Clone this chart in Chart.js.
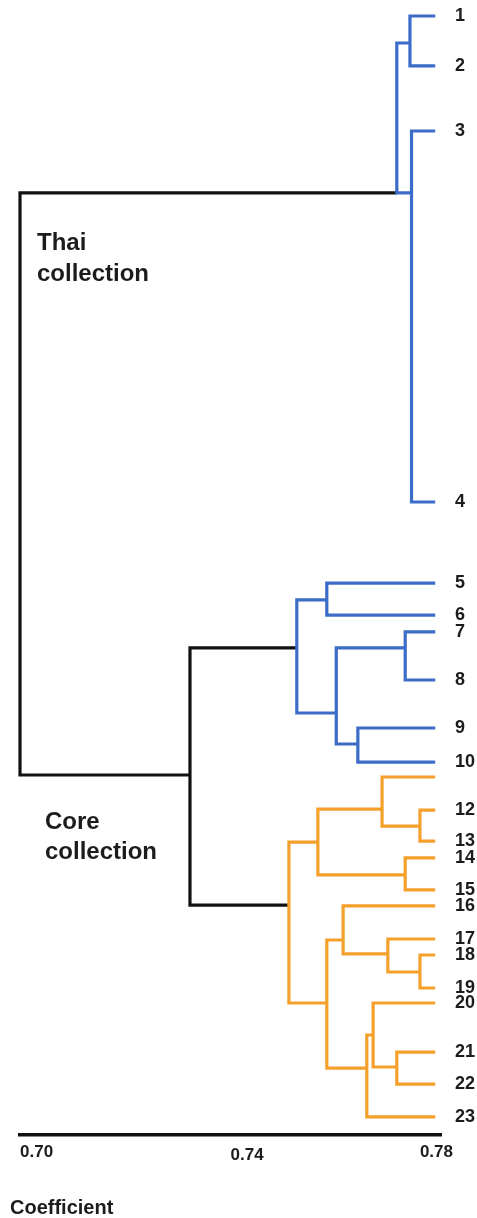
<!DOCTYPE html>
<html><head><meta charset="utf-8">
<script src="https://cdn.jsdelivr.net/npm/chart.js@4.4.0/dist/chart.umd.min.js"></script>
<style>html,body{margin:0;padding:0;background:#fff;}#wrap{width:477px;height:1218px;position:relative;}</style>
</head><body><div id="wrap"><canvas id="c"></canvas></div>
<script>
// Leaves (top to bottom), label "11" is absent in the source figure
const leafLabels = ['1','2','3','4','5','6','7','8','9','10','','12','13','14','15','16','17','18','19','20','21','22','23'];
const leafPos = [1.41,5.81,11.54,44.23,51.37,54.19,55.68,59.91,64.14,67.14,68.46,71.37,74.10,75.59,78.41,79.82,82.73,84.14,87.05,88.37,92.69,95.51,98.41];
const leafCoef = 0.7789;

// Internal merge nodes
const nodeNames  = ['A12','A34','T','B56','B78','B910','B710','B','O1213','O1113','O1415','O1','O1819','O1719','O1619','O2122','O2022','O2023','O2','O','Core','Root'];
const nodeCoef   = [0.7741,0.7744,0.7716,0.7583,0.7732,0.7642,0.7601,0.7526,0.7760,0.7688,0.7732,0.7566,0.7760,0.7699,0.7614,0.7716,0.7671,0.7659,0.7583,0.7511,0.7323,0.7000];
const nodeLeft   = ['L1','L3','A12','L5','L7','L9','B78','B56','L12','L11','L14','O1113','L18','L17','L16','L21','L20','O2022','O1619','O1','B','T'];
const nodeRight  = ['L2','L4','A34','L6','L8','L10','B910','B710','L13','O1213','L15','O1415','L19','O1819','O1719','L22','O2122','L23','O2023','O2','O','Core'];
const nodeJoin   = [3.79,17.00,17.00,52.86,57.09,65.55,62.82,57.09,72.78,71.28,77.09,74.19,85.64,84.05,82.82,94.01,91.19,94.10,88.37,79.74,68.28,null];
const nodeGroup  = ['thai','thai','thai','core','core','core','core','core','coreB','coreB','coreB','coreB','coreB','coreB','coreB','coreB','coreB','coreB','coreB','coreB','root','root'];

const tickValues = [0.70, 0.74, 0.78];
const tickLabels = ['0.70', '0.74', '0.78'];

const groupColor = {thai:'#3b6cc8', core:'#3b6cc8', coreB:'#f5a02a', root:'#111111'};

function ref(id){
  if (id[0]==='L'){ const i = parseInt(id.slice(1))-1; return {x:leafCoef, y:leafPos[i]}; }
  const k = nodeNames.indexOf(id); return {x:nodeCoef[k], y:nodeJoin[k]};
}
const datasets = nodeNames.map((n,k)=>{
  const a = ref(nodeLeft[k]), b = ref(nodeRight[k]), h = nodeCoef[k];
  return {
    label:n, data:[{x:a.x,y:a.y},{x:h,y:a.y},{x:h,y:b.y},{x:b.x,y:b.y}],
    showLine:true, borderColor:groupColor[nodeGroup[k]], borderWidth:3.2,
    pointRadius:0, tension:0, borderJoinStyle:'miter', borderCapStyle:'butt', fill:false,
    clip:false
  };
});

const FONT = '"Liberation Sans", Arial, sans-serif';
const textPlugin = {
  id:'texts',
  afterDraw(chart){
    const ctx = chart.ctx, xs = chart.scales.x;
    ctx.save();
    ctx.fillStyle = '#1c1c1c';
    ctx.textBaseline = 'middle';
    ctx.font = 'bold 17px ' + FONT;
    tickValues.forEach((v,i)=>{
      const px = xs.getPixelForValue(v);
      if (i === tickValues.length-1){ ctx.textAlign='right'; ctx.fillText(tickLabels[i], px+12, 1152); }
      else { ctx.textAlign='left'; ctx.fillText(tickLabels[i], px, i===0?1152:1155); }
    });
    ctx.textAlign='left';
    ctx.font = 'bold 20px ' + FONT;
    ctx.fillText('Coefficient', 10, 1208);
    ctx.font = 'bold 24px ' + FONT;
    ctx.fillText('Thai', 37, 243);
    ctx.fillText('collection', 37, 274);
    ctx.fillText('Core', 45, 822);
    ctx.fillText('collection', 45, 852);
    ctx.restore();
  }
};

new Chart(document.getElementById('c'), {
  type:'scatter',
  data:{datasets},
  options:{
    responsive:true, maintainAspectRatio:false, animation:false,
    events:[],
    layout:{padding:{left:20,right:0,top:0,bottom:0}},
    plugins:{legend:{display:false}, tooltip:{enabled:false}},
    scales:{
      x:{type:'linear', min:0.70, max:0.78, position:'bottom',
         grid:{display:false, drawTicks:false},
         border:{display:true, color:'#111', width:3.5},
         ticks:{display:false},
         afterFit(s){ s.height = 83; s.paddingLeft=0; s.paddingRight=0; }
      },
      y:{type:'linear', min:0, max:100, reverse:true, position:'right',
         grid:{display:false, drawTicks:false},
         border:{display:false},
         afterBuildTicks(s){ s.ticks = leafPos.map(v=>({value:v})); },
         ticks:{autoSkip:false, padding:14, color:'#1c1c1c',
                font:{family:FONT, weight:'bold', size:18},
                callback:(v,i)=>leafLabels[i]},
         afterFit(s){ s.width = 36; s.paddingTop=0; s.paddingBottom=0; }
      }
    }
  },
  plugins:[textPlugin]
});
</script></body></html>
